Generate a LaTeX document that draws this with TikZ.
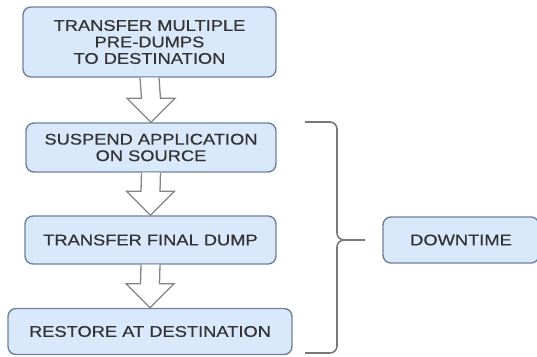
\documentclass[tikz,border=0pt]{standalone}
\usepackage{fontspec}
\setmainfont{Liberation Sans}[FakeStretch=1.18,FakeBold=0.6]
\usetikzlibrary{calc, positioning}
\definecolor{boxfill}{HTML}{DAE8FC}
\definecolor{boxline}{HTML}{6E8199}
\definecolor{txtgray}{HTML}{333333}
\definecolor{arrgray}{HTML}{858585}

\begin{document}
\begin{tikzpicture}[x=1pt,y=-1pt,
		stepbox/.style={draw=boxline,fill=boxfill,rounded corners=8pt,line width=1.4pt,
			text=txtgray,font=\fontsize{15.5}{16.5}\selectfont,align=center,inner sep=0pt},
		hollow/.style={draw=arrgray,fill=white,line width=1.3pt},
		brace/.style={draw=arrgray!90!black,line width=1.6pt,rounded corners=7pt}]
	\useasboundingbox (0,0) rectangle (537,356);
	\node[stepbox,minimum width=253,minimum height=70] (pre) at (149.5,42) {TRANSFER MULTIPLE\\PRE-DUMPS\\TO DESTINATION};
	\node[stepbox,minimum width=250,minimum height=49] (suspend) at (151,147.5) {SUSPEND APPLICATION\\ON SOURCE};
	\node[stepbox,minimum width=251,minimum height=48] (final) at (150.5,240) {TRANSFER FINAL DUMP};
	\node[stepbox,minimum width=284,minimum height=46] (restore) at (150,331.5) {RESTORE AT DESTINATION};
	\node[stepbox,minimum width=156,minimum height=46] (down) at (461,240) {DOWNTIME};
	% hollow block arrows between the steps
	\foreach \A/\B in {pre/suspend, suspend/final, final/restore}
		{
			\draw[hollow] ($(\A.south)+(-9.5,0)$) -- ($(\B.north)+(-9.5,-24)$) -- ($(\B.north)+(-24,-24)$)
				-- (\B.north) -- ($(\B.north)+(24,-24)$) -- ($(\B.north)+(9.5,-24)$) -- ($(\A.south)+(9.5,0)$);
		}
	% brace round the downtime steps
	\coordinate (btop) at (305,122);
	\coordinate (bbot) at (305,353);
	\coordinate (btip) at (365,240);
	\draw[brace] (btop) -- (337,122) -- (337,240) -- (btip);
	\draw[brace] (bbot) -- (337,353) -- (337,240) -- (btip);
\end{tikzpicture}
\end{document}
